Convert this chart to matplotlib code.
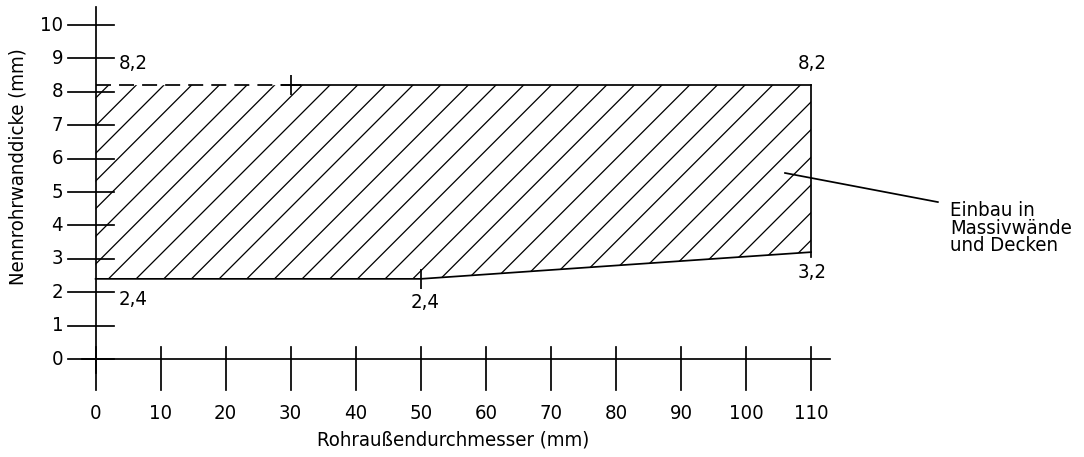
import matplotlib.pyplot as plt

# Rohraußendurchmesser (mm) -> Nennrohrwanddicke (mm), Einbaubereich
durchmesser = [0, 50, 110]
wand_min = [2.4, 2.4, 3.2]
wand_max = [8.2, 8.2, 8.2]
gestrichelt_bis = 30  # oberer Rand gestrichelt bis hier

x_ticks = list(range(0, 111, 10))
y_ticks = list(range(0, 11))

wert_labels = [("8,2", 0, 8.2), ("8,2", 110, 8.2), ("2,4", 0, 2.4),
               ("2,4", 50, 2.4), ("3,2", 110, 3.2)]

plt.rcParams['font.family'] = ['DejaVu Sans']
plt.rcParams['font.stretch'] = 'condensed'
plt.rcParams['hatch.linewidth'] = 0.55
plt.rcParams['lines.scale_dashes'] = False

DPI = 166
fig = plt.figure(figsize=(1084 / DPI, 457 / DPI), dpi=DPI)
ax = fig.add_axes([0, 0, 1, 1])
ax.set_xlim(-14.7, 151.97)
ax.set_ylim(-2.934, 10.75)
ax.axis('off')

lw = 0.75
fs = 8.8

# Achsen
ax.plot([0, 0], [-0.43, 10.55], color='k', lw=lw)
ax.plot([-2.1, 112.9], [0, 0], color='k', lw=lw)
for t in x_ticks:
    ax.plot([t, t], [0.36, -0.93], color='k', lw=lw)
    ax.text(t, -1.62, str(t), ha='center', va='center', fontsize=fs)
for t in y_ticks:
    ax.plot([-4.2, 2.8], [t, t], color='k', lw=lw)
    ax.text(-5.0, t, str(t), ha='right', va='center', fontsize=fs)

ax.text(55, -2.43, "Rohraußendurchmesser (mm)", ha='center', va='center', fontsize=fs)
ax.text(-12.0, 5.75, "Nennrohrwanddicke (mm)", ha='center', va='center',
        rotation=90, fontsize=fs)

# schraffierter Bereich
ax.fill_between(durchmesser, wand_min, wand_max, hatch='//', facecolor='none',
                edgecolor='k', linewidth=0)
ax.plot(durchmesser, wand_min, color='k', lw=lw)
ax.plot([durchmesser[0], gestrichelt_bis], [wand_max[0], wand_max[0]], color='k',
        lw=lw, dashes=(6.5, 3.5))
ax.plot([gestrichelt_bis, durchmesser[-1]], [wand_max[0], wand_max[-1]], color='k', lw=lw)
ax.plot([durchmesser[-1], durchmesser[-1]], [wand_min[-1] - 0.15, wand_max[-1]],
        color='k', lw=lw)
ax.plot([gestrichelt_bis], [wand_max[0]], marker='+', ms=9, mew=lw, color='k')
ax.plot([durchmesser[1]], [wand_min[1]], marker='|', ms=9, mew=lw, color='k')

for txt, x, y in wert_labels:
    dy = 0.66 if y > 5 else -0.62
    dx = 5.75 if x < 100 else 0.2
    if x == 50:
        dx = 0.6
        dy = -0.72
    ax.text(x + dx, y + dy, txt, ha='center', va='center', fontsize=fs)

# Hinweis
ax.plot([106.0, 129.5], [5.57, 4.70], color='k', lw=lw)
ax.text(131.4, 3.92, "Einbau in\nMassivwände\nund Decken", ha='left', va='center',
        fontsize=fs, linespacing=0.92)

plt.savefig('out.png', dpi=DPI)
